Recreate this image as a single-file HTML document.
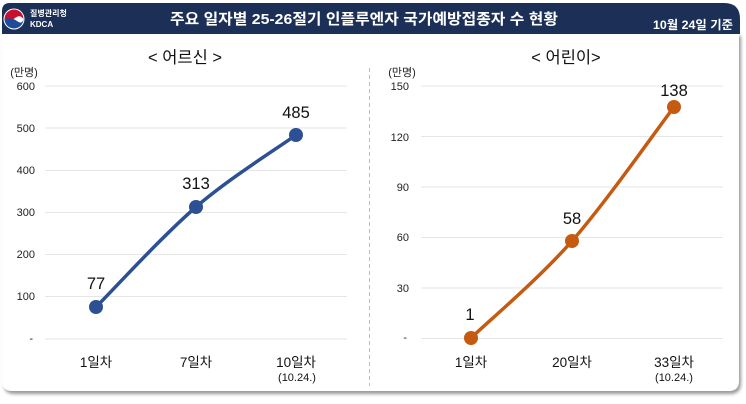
<!DOCTYPE html>
<html><head><meta charset="utf-8"><style>
html,body{margin:0;padding:0;background:#fff;}
svg{display:block;font-family:"Liberation Sans","Noto Sans CJK KR",sans-serif;}
</style></head><body>
<svg width="746" height="404" viewBox="0 0 746 404" xmlns="http://www.w3.org/2000/svg">
<defs>
<filter id="sh" x="-5%" y="-5%" width="110%" height="115%"><feGaussianBlur stdDeviation="1.6"/></filter>
</defs>
<!-- card shadow -->
<path d="M4 36 H741 V383 Q741 394 730 394 H14 Q4 394 4 384 Z" fill="#9a9a9a" filter="url(#sh)"/>
<!-- card -->
<path d="M2 34 H739 V381 Q739 391 729 391 H12 Q2 391 2 381 Z" fill="#fff"/>
<!-- header -->
<path d="M2 34 V11 Q2 3 10 3 H724 Q740 3 740 19 V34 Z" fill="#1c3057"/>
<!-- logo -->
<circle cx="14" cy="19" r="10.5" fill="#fff"/>
<path d="M4.5 19 A9.5 9.5 0 0 1 23.5 19 Q20 14 15 18 Q10 22 4.5 19 Z" fill="#c8102e"/>
<path d="M4.5 19 A9.5 9.5 0 0 0 23.5 19 Q22 25 17 21 Q12 17 4.5 19 Z" fill="#1e4c9a"/>
<text x="30" y="16" font-size="8" font-weight="bold" fill="#fff">질병관리청</text>
<text x="30" y="27" font-size="8" font-weight="bold" fill="#fff">KDCA</text>
<text x="364" y="24" font-size="15" font-weight="bold" fill="#fff" text-anchor="middle" textLength="388" lengthAdjust="spacingAndGlyphs">주요 일자별 25-26절기 인플루엔자 국가예방접종자 수 현황</text>
<text x="733" y="29" font-size="12" font-weight="bold" fill="#fff" text-anchor="end" textLength="80" lengthAdjust="spacingAndGlyphs">10월 24일 기준</text>

<!-- separator -->
<line x1="369.5" y1="68" x2="369.5" y2="386" stroke="#bdbdbd" stroke-width="1" stroke-dasharray="4,3"/>

<!-- LEFT CHART -->
<text x="185" y="63" font-size="16.5" fill="#111" text-anchor="middle">&lt; 어르신 &gt;</text>
<text x="24" y="76" font-size="11" fill="#222" text-anchor="middle">(만명)</text>
<g stroke="#e6e6e6" stroke-width="1">
<line x1="45" y1="86" x2="347" y2="86"/>
<line x1="45" y1="128" x2="347" y2="128"/>
<line x1="45" y1="170.5" x2="347" y2="170.5"/>
<line x1="45" y1="212.5" x2="347" y2="212.5"/>
<line x1="45" y1="254.5" x2="347" y2="254.5"/>
<line x1="45" y1="296.5" x2="347" y2="296.5"/>
<line x1="45" y1="339" x2="347" y2="339"/>
</g>
<g font-size="11" fill="#222" text-anchor="end">
<text x="35" y="90">600</text>
<text x="35" y="132">500</text>
<text x="35" y="174">400</text>
<text x="35" y="216">300</text>
<text x="35" y="258">200</text>
<text x="35" y="300">100</text>
<text x="33" y="342">-</text>
</g>
<path d="M96 307 C112.7 290.3 162.7 235.7 196 207 C229.3 178.3 279.3 147 296 135" fill="none" stroke="#2d4f93" stroke-width="3.5"/>
<g fill="#2d4f93">
<circle cx="96" cy="307" r="7"/>
<circle cx="196" cy="207" r="7"/>
<circle cx="296" cy="135" r="7"/>
</g>
<g font-size="16.5" fill="#111" text-anchor="middle">
<text x="96" y="289">77</text>
<text x="196" y="189">313</text>
<text x="296" y="118">485</text>
</g>
<g font-size="13.5" fill="#111" text-anchor="middle">
<text x="96" y="367">1일차</text>
<text x="196" y="367">7일차</text>
<text x="296" y="367">10일차</text>
</g>
<text x="297" y="381" font-size="11" fill="#111" text-anchor="middle">(10.24.)</text>

<!-- RIGHT CHART -->
<text x="566" y="63" font-size="16.5" fill="#111" text-anchor="middle">&lt; 어린이&gt;</text>
<text x="402" y="76" font-size="11" fill="#222" text-anchor="middle">(만명)</text>
<g stroke="#e6e6e6" stroke-width="1">
<line x1="421" y1="86" x2="723" y2="86"/>
<line x1="421" y1="136.5" x2="723" y2="136.5"/>
<line x1="421" y1="187" x2="723" y2="187"/>
<line x1="421" y1="237.5" x2="723" y2="237.5"/>
<line x1="421" y1="288" x2="723" y2="288"/>
<line x1="421" y1="338.5" x2="723" y2="338.5"/>
</g>
<g font-size="11" fill="#222" text-anchor="end">
<text x="409" y="90">150</text>
<text x="409" y="141">120</text>
<text x="409" y="191">90</text>
<text x="409" y="241">60</text>
<text x="409" y="292">30</text>
<text x="407" y="341">-</text>
</g>
<path d="M471 338 C487.8 321.8 538.2 279.5 572 241 C605.8 202.5 657 129.3 674 107" fill="none" stroke="#c55a11" stroke-width="3.5"/>
<g fill="#c55a11">
<circle cx="471" cy="338" r="7"/>
<circle cx="572" cy="241" r="7"/>
<circle cx="674" cy="107" r="7"/>
</g>
<g font-size="16.5" fill="#111" text-anchor="middle">
<text x="470" y="320">1</text>
<text x="572" y="224">58</text>
<text x="674" y="96">138</text>
</g>
<g font-size="13.5" fill="#111" text-anchor="middle">
<text x="471" y="367">1일차</text>
<text x="572" y="367">20일차</text>
<text x="674" y="367">33일차</text>
</g>
<text x="674" y="381" font-size="11" fill="#111" text-anchor="middle">(10.24.)</text>
</svg>
</body></html>
